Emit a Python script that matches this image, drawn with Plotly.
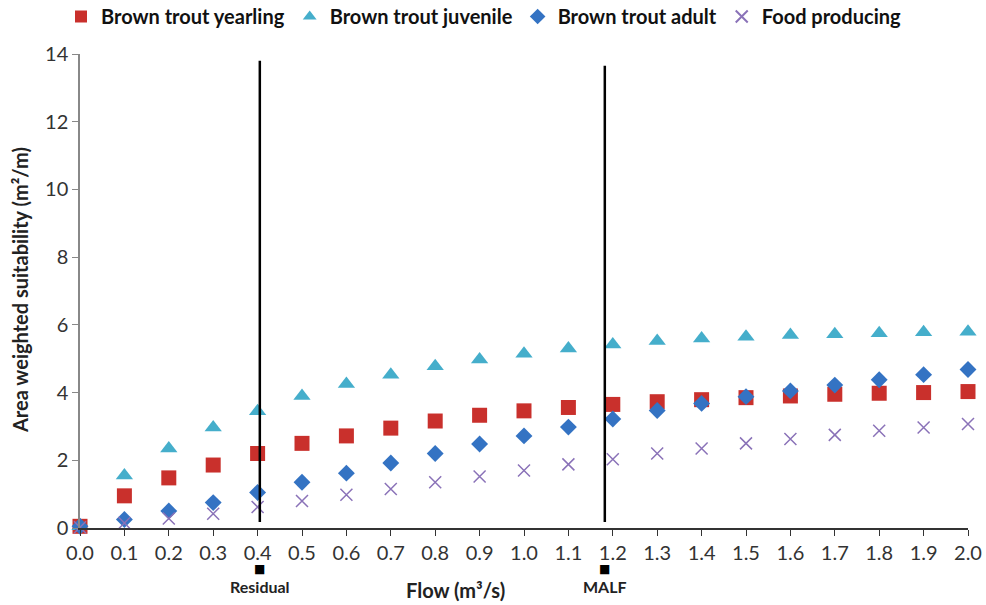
import plotly.graph_objects as go

# Flow (m3/s) and area weighted suitability (m2/m) for each life stage
flow = [0.0, 0.1, 0.2, 0.3, 0.4, 0.5, 0.6, 0.7, 0.8, 0.9, 1.0,
        1.1, 1.2, 1.3, 1.4, 1.5, 1.6, 1.7, 1.8, 1.9, 2.0]
yearling = [0.05, 0.95, 1.48, 1.86, 2.2, 2.5, 2.72, 2.95, 3.16, 3.33, 3.46,
            3.56, 3.65, 3.73, 3.79, 3.85, 3.9, 3.95, 3.98, 4.0, 4.03]
juvenile = [0.05, 1.55, 2.35, 2.97, 3.45, 3.9, 4.25, 4.53, 4.78, 4.98, 5.15,
            5.3, 5.42, 5.52, 5.6, 5.65, 5.7, 5.72, 5.75, 5.78, 5.8]
adult = [0.05, 0.25, 0.5, 0.75, 1.05, 1.35, 1.62, 1.92, 2.2, 2.48, 2.72,
         2.98, 3.22, 3.47, 3.68, 3.88, 4.05, 4.22, 4.38, 4.53, 4.68]
food = [0.02, 0.15, 0.28, 0.42, 0.62, 0.8, 0.98, 1.15, 1.35, 1.52, 1.7,
        1.88, 2.03, 2.2, 2.35, 2.5, 2.63, 2.75, 2.87, 2.97, 3.07]

x_ticks = [round(i * 0.1, 1) for i in range(21)]
x_tick_text = [f"{v:.1f}" for v in x_ticks]
y_ticks = [0, 2, 4, 6, 8, 10, 12, 14]

# Reference flows marked on the chart
residual_flow = 0.405
malf_flow = 1.182

FONT = "Lato, 'Open Sans', sans-serif"
L, R, T, B = 80, 18, 54, 77
W, H = 986, 605
PW, PH = W - L - R, H - T - B


def px_x(p):
    return (p - L) / PW


def px_y(p):
    return (H - B - p) / PH


fig = go.Figure()
fig.add_trace(go.Scatter(x=flow, y=yearling, mode="markers", name="<b>Brown trout yearling</b>",
                         marker=dict(symbol="square", size=15, color="#C9302C"),
                         cliponaxis=False))
fig.add_trace(go.Scatter(x=flow, y=juvenile, mode="markers", name="<b>Brown trout juvenile</b>",
                         marker=dict(symbol="triangle-up", size=15, color="#45AECB"),
                         cliponaxis=False))
fig.add_trace(go.Scatter(x=flow, y=adult, mode="markers", name="<b>Brown trout adult</b>",
                         marker=dict(symbol="diamond", size=13, color="#3473C3"),
                         cliponaxis=False))
fig.add_trace(go.Scatter(x=flow, y=food, mode="markers", name="<b>Food producing</b>",
                         marker=dict(symbol="x-thin", size=12,
                                     line=dict(color="#8A72B8", width=1.5)),
                         cliponaxis=False))

# Vertical reference lines
fig.add_shape(type="line", xref="x", yref="y", x0=residual_flow, x1=residual_flow,
              y0=0.18, y1=13.8, line=dict(color="black", width=2.5))
fig.add_shape(type="line", xref="x", yref="y", x0=malf_flow, x1=malf_flow,
              y0=0.18, y1=13.65, line=dict(color="black", width=2.5))

# Small square markers and labels below the axis
for xv, label in [(residual_flow, "Residual"), (malf_flow, "MALF")]:
    fig.add_annotation(x=xv, xref="x", y=px_y(569), yref="paper", text="■",
                       showarrow=False, font=dict(size=12, color="black", family="DejaVu Sans"),
                       yanchor="middle")
    fig.add_annotation(x=xv, xref="x", y=px_y(586), yref="paper", text=f"<b>{label}</b>",
                       showarrow=False, font=dict(size=16, color="#222", family=FONT),
                       yanchor="middle")

fig.add_annotation(x=px_x(455), xref="paper", y=px_y(590), yref="paper",
                   text="<b>Flow (m³/s)</b>", showarrow=False,
                   font=dict(size=20, color="#222", family=FONT),
                   yanchor="middle", xanchor="center")

fig.add_annotation(x=px_x(20), xref="paper", y=px_y(290), yref="paper",
                   text="<b>Area weighted suitability (m²/m)</b>", showarrow=False,
                   textangle=-90, font=dict(size=20, color="#222", family=FONT),
                   xanchor="center", yanchor="middle")

fig.update_layout(
    width=W, height=H,
    margin=dict(l=L, r=R, t=T, b=B, autoexpand=False),
    paper_bgcolor="white", plot_bgcolor="white",
    font=dict(family=FONT, size=20, color="#333"),
    showlegend=True,
    legend=dict(orientation="h", x=px_x(61), xanchor="left", y=px_y(-3), yanchor="top",
                font=dict(size=20, color="#111", family=FONT),
                itemsizing="constant", itemwidth=30, tracegroupgap=0),
    xaxis=dict(range=[0, 2.0], tickmode="array", tickvals=x_ticks, ticktext=x_tick_text,
               showgrid=False, zeroline=False, showline=True, linecolor="#333", linewidth=1.5,
               ticks="outside", ticklen=6, tickcolor="#333", tickfont=dict(size=20, color="#333")),
    yaxis=dict(range=[0, 14], tickmode="array", tickvals=y_ticks,
               showgrid=False, zeroline=False, showline=True, linecolor="#888", linewidth=1.5,
               ticks="outside", ticklen=6, tickcolor="#888", tickfont=dict(size=20, color="#333")),
)

fig.write_html("out.html")
